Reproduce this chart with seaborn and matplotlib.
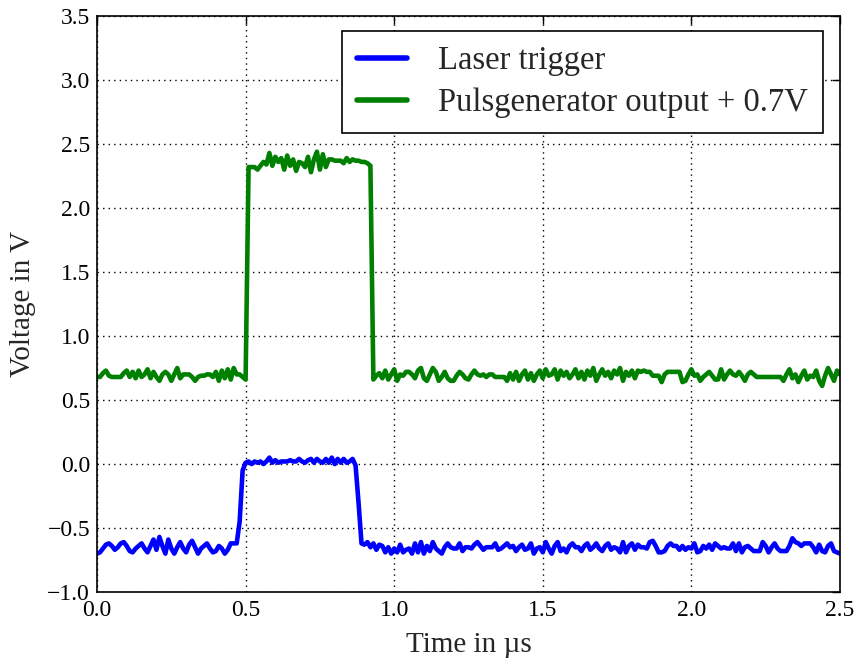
import numpy as np
import pandas as pd
import matplotlib
matplotlib.use("Agg")
import matplotlib.pyplot as plt
import seaborn as sns

# Oscilloscope samples, 10 ns spacing from 0 to 2.5 µs
time_us = np.linspace(0.0, 2.5, 251)

laser_trigger = [
    # 0.00 - 0.49
    -0.70, -0.69, -0.66, -0.63, -0.62, -0.64, -0.67, -0.65, -0.62, -0.61,
    -0.64, -0.68, -0.69, -0.66, -0.64, -0.62, -0.66, -0.69, -0.64, -0.59,
    -0.67, -0.57, -0.64, -0.70, -0.59, -0.66, -0.70, -0.65, -0.61, -0.66,
    -0.69, -0.63, -0.60, -0.65, -0.70, -0.66, -0.64, -0.62, -0.66, -0.69,
    -0.68, -0.64, -0.66, -0.70, -0.67, -0.62, -0.62, -0.62, -0.45, -0.05,
    # 0.50 - 0.89
    0.01, 0.02, 0.00, 0.02, 0.01, 0.02, 0.00, 0.02, 0.05, 0.01,
    0.03, 0.01, 0.02, 0.02, 0.02, 0.03, 0.02, 0.02, 0.04, 0.02,
    0.01, 0.03, 0.04, 0.01, 0.04, 0.02, 0.01, 0.04, 0.01, 0.05,
    0.00, 0.04, 0.01, 0.04, 0.01, 0.02, 0.04, -0.01, -0.30, -0.62,
    # 0.90 - 2.50
    -0.63, -0.61, -0.65, -0.62, -0.67, -0.63, -0.64, -0.69, -0.65, -0.70,
    -0.66, -0.69, -0.63, -0.69, -0.67, -0.66, -0.70, -0.62, -0.69, -0.61,
    -0.70, -0.64, -0.68, -0.61, -0.66, -0.68, -0.70, -0.65, -0.62, -0.65,
    -0.66, -0.66, -0.62, -0.68, -0.65, -0.65, -0.66, -0.63, -0.61, -0.64,
    -0.67, -0.65, -0.65, -0.65, -0.62, -0.67, -0.66, -0.64, -0.62, -0.65,
    -0.64, -0.68, -0.65, -0.63, -0.67, -0.66, -0.62, -0.70, -0.66, -0.65,
    -0.69, -0.61, -0.66, -0.70, -0.64, -0.61, -0.68, -0.66, -0.69, -0.64,
    -0.62, -0.65, -0.65, -0.68, -0.64, -0.62, -0.67, -0.65, -0.62, -0.66,
    -0.68, -0.64, -0.62, -0.67, -0.65, -0.66, -0.69, -0.61, -0.69, -0.64,
    -0.62, -0.67, -0.63, -0.65, -0.65, -0.66, -0.61, -0.60, -0.64, -0.69,
    -0.69, -0.68, -0.64, -0.62, -0.64, -0.64, -0.67, -0.64, -0.67, -0.65,
    -0.66, -0.62, -0.69, -0.68, -0.64, -0.66, -0.63, -0.67, -0.62, -0.64,
    -0.66, -0.65, -0.66, -0.66, -0.62, -0.68, -0.62, -0.69, -0.65, -0.64,
    -0.66, -0.68, -0.68, -0.68, -0.61, -0.64, -0.69, -0.65, -0.62, -0.66,
    -0.68, -0.68, -0.68, -0.64, -0.58, -0.61, -0.62, -0.64, -0.62, -0.62,
    -0.62, -0.65, -0.69, -0.63, -0.68, -0.69, -0.64, -0.62, -0.68, -0.69,
    -0.70,
]

pulse_output = [
    # 0.00 - 0.50
    0.68, 0.68, 0.71, 0.73, 0.69, 0.68, 0.68, 0.68, 0.68, 0.71,
    0.73, 0.68, 0.72, 0.67, 0.73, 0.68, 0.70, 0.74, 0.67, 0.72,
    0.68, 0.65, 0.70, 0.72, 0.70, 0.65, 0.70, 0.75, 0.67, 0.70,
    0.70, 0.70, 0.68, 0.65, 0.68, 0.69, 0.69, 0.70, 0.70, 0.68,
    0.72, 0.65, 0.73, 0.67, 0.74, 0.66, 0.75, 0.70, 0.70, 0.68,
    0.66,
    # 0.51 - 0.92
    2.32, 2.32, 2.32, 2.30, 2.33, 2.36, 2.34, 2.43, 2.33, 2.40,
    2.36, 2.39, 2.30, 2.41, 2.33, 2.38, 2.29, 2.36, 2.35, 2.32,
    2.40, 2.28, 2.38, 2.44, 2.30, 2.42, 2.32, 2.38, 2.38, 2.37,
    2.37, 2.37, 2.35, 2.39, 2.36, 2.38, 2.37, 2.37, 2.36, 2.36,
    2.35, 2.33,
    # 0.93 - 2.50
    0.66, 0.69, 0.71, 0.67, 0.73, 0.66, 0.70,
    0.74, 0.65, 0.70, 0.69, 0.72, 0.72, 0.70, 0.67, 0.73, 0.75,
    0.67, 0.65, 0.70, 0.75, 0.72, 0.65, 0.68, 0.72, 0.67, 0.65,
    0.65, 0.69, 0.72, 0.70, 0.67, 0.66, 0.70, 0.73, 0.70, 0.69,
    0.70, 0.68, 0.70, 0.70, 0.68, 0.68, 0.68, 0.68, 0.65, 0.71,
    0.66, 0.72, 0.65, 0.70, 0.73, 0.66, 0.71, 0.65, 0.70, 0.73,
    0.67, 0.74, 0.69, 0.70, 0.74, 0.66, 0.73, 0.69, 0.72, 0.67,
    0.70, 0.74, 0.67, 0.72, 0.66, 0.73, 0.69, 0.75, 0.65, 0.70,
    0.74, 0.69, 0.72, 0.67, 0.73, 0.70, 0.75, 0.65, 0.72, 0.69,
    0.73, 0.67, 0.73, 0.72, 0.73, 0.72, 0.72, 0.69, 0.69, 0.69,
    0.64, 0.70, 0.72, 0.72, 0.72, 0.72, 0.72, 0.64, 0.65, 0.70,
    0.74, 0.69, 0.70, 0.65, 0.68, 0.70, 0.72, 0.69, 0.66, 0.66,
    0.74, 0.66, 0.70, 0.73, 0.70, 0.69, 0.72, 0.69, 0.65, 0.70,
    0.72, 0.70, 0.68, 0.68, 0.68, 0.68, 0.68, 0.68, 0.68, 0.68,
    0.68, 0.65, 0.70, 0.74, 0.67, 0.70, 0.64, 0.69, 0.73, 0.66,
    0.69, 0.68, 0.73, 0.65, 0.61, 0.69, 0.75, 0.70, 0.65, 0.73,
    0.70,
]

series_names = ["Laser trigger", "Pulsgenerator output + 0.7V"]
series_colors = ["#0000ff", "#008000"]

x_ticks = [0.0, 0.5, 1.0, 1.5, 2.0, 2.5]
y_ticks = [-1.0, -0.5, 0.0, 0.5, 1.0, 1.5, 2.0, 2.5, 3.0, 3.5]

df = pd.DataFrame({
    "t": np.concatenate([time_us, time_us]),
    "v": np.concatenate([laser_trigger, pulse_output]),
    "signal": [series_names[0]] * len(time_us) + [series_names[1]] * len(time_us),
})

sns.set_style("white")
plt.rcParams["font.family"] = ["Liberation Serif", "DejaVu Serif"]

fig = plt.figure(figsize=(8.6, 6.62), dpi=100)
ax = fig.add_axes([0.1128, 0.1057, 0.8639, 0.8701])

sns.lineplot(data=df, x="t", y="v", hue="signal", hue_order=series_names,
             palette=series_colors, linewidth=3.3, ax=ax, estimator=None,
             sort=False)

ax.set_xlim(0.0, 2.5)
ax.set_ylim(-1.0, 3.5)
ax.set_xticks(x_ticks)
ax.set_yticks(y_ticks)
ax.set_xticklabels([f"{v:.1f}" for v in x_ticks])
ax.set_yticklabels([f"{v:.1f}".replace("-", "\u2212") for v in y_ticks])

ax.grid(True, color="black", linestyle=(0, (1, 3)), linewidth=1.0)
ax.tick_params(direction="in", length=6, width=1, top=True, right=True,
               labelsize=17, colors="black")
ax.tick_params(axis="x", pad=6)
ax.tick_params(axis="y", pad=5)
for spine in ax.spines.values():
    spine.set_color("black")
    spine.set_linewidth(1.2)

ax.set_xlabel("Time in µs", fontsize=21, labelpad=8)
ax.set_ylabel("Voltage in V", fontsize=21, labelpad=8)

leg = ax.legend(loc="upper right", fontsize=23.5, handlelength=1.55,
                borderpad=0.45, labelspacing=0.35, handletextpad=0.95,
                borderaxespad=0.0,
                fancybox=False, framealpha=1.0, edgecolor="black",
                bbox_to_anchor=(0.977, 0.974))
leg.get_frame().set_linewidth(1.2)
for line in leg.get_lines():
    line.set_linewidth(4)

fig.savefig("out.png", dpi=100)
